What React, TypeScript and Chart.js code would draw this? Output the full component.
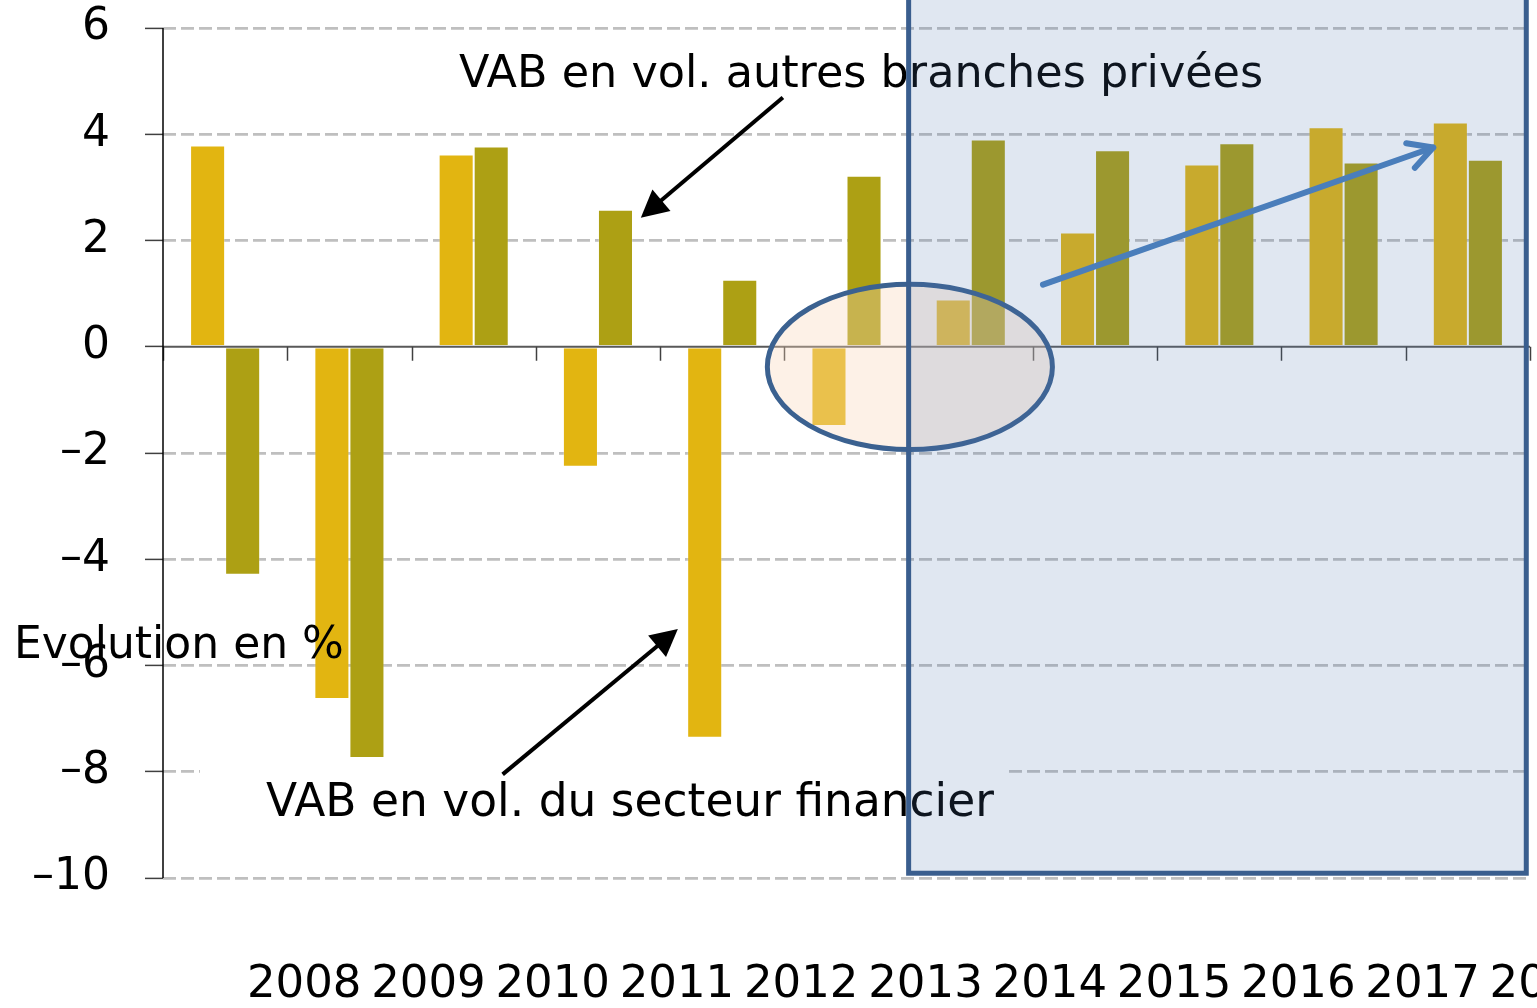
import React, { useEffect, useRef } from 'react';
import { Chart, registerables } from 'chart.js';

Chart.register(...registerables);

// ---- Data ----
const years = ['2008', '2009', '2010', '2011', '2012', '2013', '2014', '2015', '2016', '2017', '2018'];
const financialSector = [3.79, -6.63, 3.62, -2.26, -7.36, -1.49, 0.89, 2.15, 3.43, 4.13, 4.22];
const otherPrivateBranches = [-4.29, -7.74, 3.77, 2.58, 1.26, 3.22, 3.9, 3.7, 3.83, 3.47, 3.52];
const yMin = -10;
const yMax = 6;
const yStep = 2;

const labelTop = 'VAB en vol. autres branches privées';
const labelBottom = 'VAB en vol. du secteur financier';
const labelAxis = 'Evolution en %';

const FONT = "'DejaVu Sans', Verdana, sans-serif";

function drawArrow(
  ctx: CanvasRenderingContext2D,
  x1: number, y1: number, x2: number, y2: number,
  color: string, width: number, headLen: number, headHalf: number, filled: boolean
) {
  const ang = Math.atan2(y2 - y1, x2 - x1);
  const ux = Math.cos(ang), uy = Math.sin(ang);
  const bx = x2 - ux * headLen, by = y2 - uy * headLen;
  const nx = -uy, ny = ux;
  ctx.save();
  ctx.strokeStyle = color;
  ctx.fillStyle = color;
  ctx.lineWidth = width;
  ctx.lineCap = filled ? 'butt' : 'round';
  ctx.lineJoin = 'round';
  ctx.beginPath();
  ctx.moveTo(x1, y1);
  ctx.lineTo(filled ? bx + ux * 2 : x2, filled ? by + uy * 2 : y2);
  ctx.stroke();
  if (filled) {
    ctx.beginPath();
    ctx.moveTo(x2, y2);
    ctx.lineTo(bx + nx * headHalf, by + ny * headHalf);
    ctx.lineTo(bx - nx * headHalf, by - ny * headHalf);
    ctx.closePath();
    ctx.fill();
  } else {
    ctx.beginPath();
    ctx.moveTo(bx + nx * headHalf, by + ny * headHalf);
    ctx.lineTo(x2, y2);
    ctx.lineTo(bx - nx * headHalf, by - ny * headHalf);
    ctx.stroke();
  }
  ctx.restore();
}

const decorPlugin = {
  id: 'decor',
  afterDatasetsDraw(chart: any) {
    const ctx: CanvasRenderingContext2D = chart.ctx;
    const x = chart.scales.x;
    const y = chart.scales.y;
    const area = chart.chartArea;
    const px = (v: number) => x.getPixelForValue(v);
    const py = (v: number) => y.getPixelForValue(v);
    const y0 = py(0);

    ctx.save();
    // zero line
    ctx.strokeStyle = '#595959';
    ctx.lineWidth = 2;
    ctx.beginPath();
    ctx.moveTo(area.left, y0);
    ctx.lineTo(area.right, y0);
    ctx.stroke();
    // x tick marks at category boundaries
    ctx.strokeStyle = '#404040';
    ctx.lineWidth = 1.5;
    for (let i = 0; i <= years.length; i++) {
      const xx = Math.round(px(i - 0.5)) + 0.5;
      ctx.beginPath();
      ctx.moveTo(xx, y0);
      ctx.lineTo(xx, y0 + 14);
      ctx.stroke();
    }
    // y axis line
    ctx.strokeStyle = '#000';
    ctx.lineWidth = 1.5;
    ctx.beginPath();
    ctx.moveTo(area.left, area.top);
    ctx.lineTo(area.left, area.bottom);
    ctx.stroke();

    // texts
    ctx.textBaseline = 'alphabetic';
    ctx.textAlign = 'left';
    ctx.fillStyle = '#000';
    ctx.font = `44px ${FONT}`;
    ctx.fillText(labelAxis, 14, 658);
    ctx.font = `44.5px ${FONT}`;
    ctx.fillText(labelTop, 459, 87);
    // white box behind lower label
    ctx.fillStyle = '#fff';
    ctx.fillRect(200, 758, 805, 78);
    ctx.fillStyle = '#000';
    ctx.font = `45.5px ${FONT}`;
    ctx.fillText(labelBottom, 266, 816);

    // ellipse highlight around 2013
    const ecx = px(5.51), ecy = py(-0.38);
    const erx = px(5.51 + 1.147) - ecx;
    const ery = py(-0.38 - 1.555) - ecy;
    ctx.beginPath();
    ctx.ellipse(ecx, ecy, erx, ery, 0, 0, Math.PI * 2);
    ctx.fillStyle = 'rgba(250,214,186,0.35)';
    ctx.fill();
    ctx.strokeStyle = '#3B6190';
    ctx.lineWidth = 5;
    ctx.stroke();

    // shaded forecast rectangle
    const rx1 = px(5.5), rx2 = px(10.47);
    const ry1 = py(7), ry2 = py(-9.91);
    ctx.fillStyle = 'rgba(78,118,175,0.175)';
    ctx.fillRect(rx1, ry1, rx2 - rx1, ry2 - ry1);
    ctx.strokeStyle = '#3A5E8E';
    ctx.lineWidth = 5;
    ctx.strokeRect(rx1, ry1, rx2 - rx1, ry2 - ry1);

    // arrows
    drawArrow(ctx, px(4.488), py(4.69), px(3.345), py(2.43), '#000', 4, 27, 14, true);
    drawArrow(ctx, px(2.233), py(-8.05), px(3.643), py(-5.315), '#000', 4, 27, 14, true);
    drawArrow(ctx, px(6.581), py(1.168), px(9.721), py(3.75), '#4A7EBB', 6, 24, 13, false);
    ctx.restore();
  },
};

export default function App() {
  const ref = useRef<HTMLCanvasElement>(null);
  useEffect(() => {
    if (!ref.current) return;
    const yTickValues: number[] = [];
    for (let v = yMin; v <= yMax; v += yStep) yTickValues.push(v);
    const chart = new Chart(ref.current, {
      type: 'bar',
      data: {
        labels: years,
        datasets: [
          {
            label: labelBottom,
            data: financialSector,
            backgroundColor: '#E2B511',
            borderColor: 'rgba(255,255,255,0.25)',
            borderWidth: 1,
            categoryPercentage: 0.564,
            barPercentage: 1,
          },
          {
            label: labelTop,
            data: otherPrivateBranches,
            backgroundColor: '#ADA014',
            borderColor: 'rgba(255,255,255,0.25)',
            borderWidth: 1,
            categoryPercentage: 0.564,
            barPercentage: 1,
          },
        ],
      },
      options: {
        responsive: false,
        maintainAspectRatio: false,
        animation: false,
        layout: { padding: { top: 28, right: 7, left: 0, bottom: 0 } },
        plugins: {
          legend: { display: false },
          tooltip: { enabled: false },
        },
        scales: {
          x: {
            type: 'category',
            offset: true,
            grid: { display: false, drawTicks: false },
            border: { display: false },
            ticks: {
              font: { family: FONT, size: 45 },
              color: '#000',
              padding: 80,
              labelOffset: 79,
              autoSkip: false,
              maxRotation: 0,
              minRotation: 0,
            },
            afterFit: (s: any) => {
              s.height = 130;
              s.paddingLeft = 0;
              s.paddingRight = 0;
            },
          },
          y: {
            min: yMin,
            max: yMax,
            afterBuildTicks: (s: any) => {
              s.ticks = yTickValues.map((v) => ({ value: v }));
            },
            ticks: {
              stepSize: yStep,
              font: { family: FONT, size: 44 },
              color: '#000',
              padding: 35,
              callback: (v: any) => (Number(v) < 0 ? '\u2013' + Math.abs(Number(v)) : String(v)),
            },
            grid: {
              color: (c: any) => (c.tick && c.tick.value === 0 ? 'rgba(0,0,0,0)' : '#BFBFBF'),
              lineWidth: 2.8,
              drawTicks: true,
              tickLength: 18,
              tickColor: '#404040',
              tickWidth: 1.5,
              tickBorderDash: [],
            },
            border: { display: false, dash: [13, 5] },
            afterFit: (s: any) => {
              s.width = 163;
              s.paddingTop = 0;
              s.paddingBottom = 0;
            },
          },
        },
      },
      plugins: [decorPlugin],
    } as any);
    return () => chart.destroy();
  }, []);
  return (
    <div style={{ position: 'absolute', left: 0, top: 0, width: 1537, height: 1008, background: '#fff' }}>
      <canvas ref={ref} width={1537} height={1008} style={{ display: 'block', width: 1537, height: 1008 }} />
    </div>
  );
}
